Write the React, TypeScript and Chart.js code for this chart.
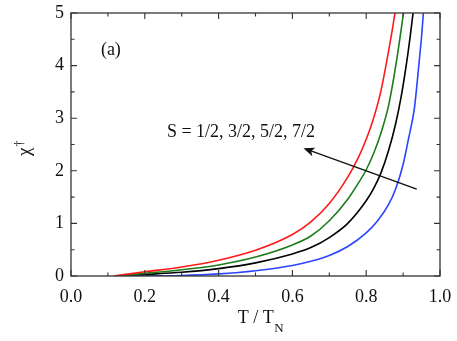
import React, { useEffect, useRef } from "react";
import { Chart, registerables } from "chart.js";
Chart.register(...registerables);

// S = 1/2 (red)
const redT = [0.115, 0.2, 0.3, 0.4, 0.5, 0.6, 0.65, 0.7, 0.75, 0.78, 0.8, 0.82, 0.84, 0.86, 0.87, 0.878];
const redChi = [0.0, 0.08, 0.17, 0.30, 0.49, 0.79, 1.03, 1.38, 1.88, 2.27, 2.6, 3.0, 3.52, 4.25, 4.65, 5.0];
// S = 3/2 (green)
const greenT = [0.12, 0.2, 0.3, 0.4, 0.5, 0.6, 0.65, 0.7, 0.75, 0.78, 0.8, 0.82, 0.84, 0.86, 0.875, 0.89, 0.901];
const greenChi = [0.0, 0.05, 0.12, 0.21, 0.36, 0.59, 0.76, 1.05, 1.46, 1.78, 2.02, 2.33, 2.72, 3.22, 3.78, 4.45, 5.0];
// S = 5/2 (black)
const blackT = [0.12, 0.2, 0.3, 0.4, 0.5, 0.6, 0.65, 0.7, 0.75, 0.8, 0.82, 0.84, 0.86, 0.88, 0.895, 0.91, 0.92, 0.927];
const blackChi = [0.0, 0.03, 0.07, 0.14, 0.25, 0.42, 0.54, 0.73, 1.0, 1.43, 1.66, 1.96, 2.37, 2.90, 3.42, 4.08, 4.6, 5.0];
// S = 7/2 (blue)
const blueT = [0.15, 0.3, 0.4, 0.5, 0.6, 0.65, 0.7, 0.75, 0.8, 0.83, 0.86, 0.88, 0.9, 0.915, 0.93, 0.937, 0.944, 0.95, 0.955];
const blueChi = [0.0, 0.01, 0.04, 0.10, 0.20, 0.28, 0.39, 0.56, 0.82, 1.04, 1.35, 1.66, 2.12, 2.62, 3.16, 3.6, 4.11, 4.55, 5.0];

const seriesNames = ["S = 1/2", "S = 3/2", "S = 5/2", "S = 7/2"];
const seriesColors = ["#ff1a1a", "#1a7d1a", "#000000", "#2a44ff"];

const xMajor = [0, 0.2, 0.4, 0.6, 0.8, 1.0];
const xMinor = [0.1, 0.3, 0.5, 0.7, 0.9];
const yMajor = [0, 1, 2, 3, 4, 5];
const yMinor = [0.5, 1.5, 2.5, 3.5, 4.5];

const arrowTail = [0.937, 1.65];
const arrowHead = [0.63, 2.43];
const sText = "S = 1/2, 3/2, 5/2, 7/2";
const sTextPos = [0.26, 2.74];
const panelText = "(a)";
const panelPos = [0.081, 4.30];
const xTitleMain = "T / T";
const xTitleSub = "N";
const yTitleMain = "χ";
const yTitleSup = "†";

const SERIF = "'Liberation Serif', 'Times New Roman', serif";

const decorPlugin = {
  id: "decor",
  afterDatasetsDraw(chart: any) {
    const ctx = chart.ctx;
    const xs = chart.scales.x;
    const ys = chart.scales.y;
    const a = chart.chartArea;
    ctx.save();
    ctx.strokeStyle = "#333";
    ctx.lineWidth = 1.3;
    ctx.strokeRect(a.left, a.top, a.right - a.left, a.bottom - a.top);
    ctx.lineWidth = 1.1;
    const tick = (vals: number[], len: number) => {
      for (const v of vals) {
        const px = xs.getPixelForValue(v);
        ctx.beginPath();
        ctx.moveTo(px, a.bottom); ctx.lineTo(px, a.bottom - len);
        ctx.moveTo(px, a.top); ctx.lineTo(px, a.top + len);
        ctx.stroke();
      }
    };
    const tickY = (vals: number[], len: number) => {
      for (const v of vals) {
        const py = ys.getPixelForValue(v);
        ctx.beginPath();
        ctx.moveTo(a.left, py); ctx.lineTo(a.left + len, py);
        ctx.moveTo(a.right, py); ctx.lineTo(a.right - len, py);
        ctx.stroke();
      }
    };
    tick(xMajor, 6); tick(xMinor, 3.5);
    tickY(yMajor, 6); tickY(yMinor, 3.5);

    // arrow
    const x1 = xs.getPixelForValue(arrowTail[0]);
    const y1 = ys.getPixelForValue(arrowTail[1]);
    const x2 = xs.getPixelForValue(arrowHead[0]);
    const y2 = ys.getPixelForValue(arrowHead[1]);
    ctx.strokeStyle = "#111";
    ctx.fillStyle = "#111";
    ctx.lineWidth = 1.3;
    const ang = Math.atan2(y2 - y1, x2 - x1);
    ctx.beginPath();
    ctx.moveTo(x1, y1);
    ctx.lineTo(x2 - 5 * Math.cos(ang), y2 - 5 * Math.sin(ang));
    ctx.stroke();
    const L = 11, W = 4.5;
    const bx = x2 - L * Math.cos(ang), by = y2 - L * Math.sin(ang);
    const inner = 0.75;
    ctx.beginPath();
    ctx.moveTo(x2, y2);
    ctx.lineTo(bx + W * Math.sin(ang), by - W * Math.cos(ang));
    ctx.lineTo(x2 - inner * L * Math.cos(ang), y2 - inner * L * Math.sin(ang));
    ctx.lineTo(bx - W * Math.sin(ang), by + W * Math.cos(ang));
    ctx.closePath();
    ctx.fill();

    // texts
    ctx.fillStyle = "#111";
    ctx.font = `18px ${SERIF}`;
    ctx.textBaseline = "middle";
    ctx.textAlign = "left";
    ctx.fillText(sText, xs.getPixelForValue(sTextPos[0]), ys.getPixelForValue(sTextPos[1]));
    ctx.fillText(panelText, xs.getPixelForValue(panelPos[0]), ys.getPixelForValue(panelPos[1]));

    // x title
    ctx.textBaseline = "alphabetic";
    ctx.font = `18px ${SERIF}`;
    const wMain = ctx.measureText(xTitleMain).width;
    ctx.font = `13px ${SERIF}`;
    const wSub = ctx.measureText(xTitleSub).width;
    const cx = (a.left + a.right) / 2 + 5;
    const startX = cx - (wMain + wSub) / 2;
    ctx.font = `18px ${SERIF}`;
    ctx.fillText(xTitleMain, startX, 323);
    ctx.font = `13px ${SERIF}`;
    ctx.fillText(xTitleSub, startX + wMain + 0.5, 332);

    // y title
    ctx.save();
    ctx.translate(30, 156);
    ctx.rotate(-Math.PI / 2);
    ctx.font = `19px ${SERIF}`;
    ctx.fillText(yTitleMain, 0, 0);
    const wc = ctx.measureText(yTitleMain).width;
    ctx.font = `12px ${SERIF}`;
    ctx.fillText(yTitleSup, wc + 1, -7);
    ctx.restore();

    ctx.restore();
  },
};

export default function App() {
  const ref = useRef<HTMLCanvasElement | null>(null);
  useEffect(() => {
    if (!ref.current) return;
    const pairs = [
      [redT, redChi],
      [greenT, greenChi],
      [blackT, blackChi],
      [blueT, blueChi],
    ];
    const chart = new Chart(ref.current, {
      type: "line",
      data: {
        datasets: pairs.map((p, i) => ({
          label: seriesNames[i],
          data: p[0].map((t, j) => ({ x: t, y: p[1][j] })),
          borderColor: seriesColors[i],
          backgroundColor: seriesColors[i],
          borderWidth: 1.6,
          pointRadius: 0,
          cubicInterpolationMode: "monotone" as const,
          fill: false,
        })),
      },
      options: {
        responsive: false,
        animation: false,
        layout: { padding: { left: 0, top: 13, right: 17, bottom: 0 } },
        plugins: { legend: { display: false }, tooltip: { enabled: false } },
        scales: {
          x: {
            type: "linear",
            min: 0,
            max: 1,
            afterFit: (s: any) => {
              s.height = 65;
              s.paddingLeft = 0; s.paddingRight = 0; s.paddingTop = 0; s.paddingBottom = 0;
            },
            afterBuildTicks: (s: any) => { s.ticks = xMajor.map((v) => ({ value: v })); },
            grid: { display: false, drawTicks: false },
            border: { display: false },
            ticks: {
              font: { family: SERIF, size: 18 },
              color: "#111",
              padding: 10,
              maxRotation: 0,
              callback: (v: any) => Number(v).toFixed(1),
            },
          },
          y: {
            type: "linear",
            min: 0,
            max: 5,
            afterFit: (s: any) => {
              s.width = 71;
              s.paddingLeft = 0; s.paddingRight = 0; s.paddingTop = 0; s.paddingBottom = 0;
            },
            afterBuildTicks: (s: any) => { s.ticks = yMajor.map((v) => ({ value: v })); },
            grid: { display: false, drawTicks: false },
            border: { display: false },
            ticks: {
              font: { family: SERIF, size: 18 },
              color: "#111",
              padding: 7,
              callback: (v: any) => String(v),
            },
          },
        },
      },
      plugins: [decorPlugin],
    });
    return () => chart.destroy();
  }, []);
  return (
    <div style={{ position: "fixed", left: 0, top: 0, width: 457, height: 341, background: "#fff" }}>
      <canvas ref={ref} width={457} height={341} />
    </div>
  );
}
